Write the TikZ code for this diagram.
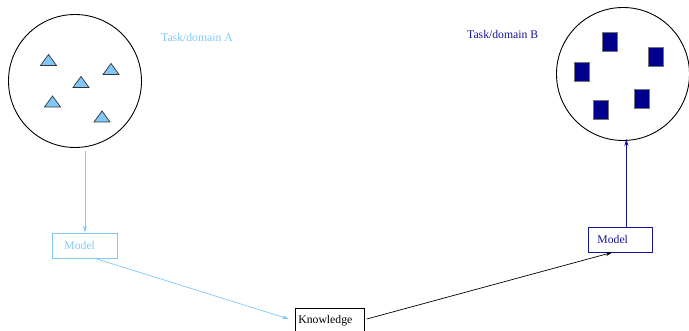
\documentclass[tikz,border=0pt]{standalone}
\usepackage{fontspec}
\setmainfont{Liberation Serif}
\usetikzlibrary{shapes.geometric,arrows.meta,calc}
\definecolor{lblue}{RGB}{128,200,250}
\definecolor{nblue}{RGB}{20,20,150}
\definecolor{sqfill}{RGB}{0,0,140}
\tikzset{
  domcircle/.style={circle,draw=black,line width=0.9pt,minimum size=133pt,inner sep=0pt},
  tri/.style={draw=black!80,fill=lblue,line width=0.7pt,line join=miter},
  sq/.style={rectangle,draw=black!55,fill=sqfill,line width=0.6pt,minimum width=15pt,minimum height=19pt,inner sep=0pt},
  modelbox/.style={rectangle,line width=0.8pt,minimum height=25pt,anchor=west,font=\fontsize{11.7}{14}\selectfont},
  lbl/.style={anchor=west,inner sep=0pt,font=\fontsize{11.7}{14}\selectfont},
  conn/.style={line width=0.7pt,-{Stealth[length=7pt,width=4pt]}}
}
\newcommand{\mytri}[1]{\draw[tri] ($(#1)+(-8,5.5)$) -- ($(#1)+(8,5.5)$) -- ($(#1)+(0,-5.5)$) -- cycle;}
\begin{document}
\begin{tikzpicture}[x=1pt,y=-1pt]
\useasboundingbox (0,0) rectangle (689,331);
% domains
\node[domcircle] (cA) at (75,81) {};
\node[domcircle] (cB) at (623,74) {};
% triangles
\coordinate (t1) at (48.5,60);
\coordinate (t2) at (111,69);
\coordinate (t3) at (81,82);
\coordinate (t4) at (52.5,101.5);
\coordinate (t5) at (102,116.5);
\mytri{t1}\mytri{t2}\mytri{t3}\mytri{t4}\mytri{t5}
% squares
\node[sq] (s1) at (610,42) {};
\node[sq] (s2) at (656,57) {};
\node[sq] (s3) at (582,72) {};
\node[sq] (s4) at (642,99) {};
\node[sq] (s5) at (601,110) {};
% labels
\node[lbl,text=lblue] (la) at (161,38) {Task/domain A};
\node[lbl,text=nblue] (lb) at (467,35) {Task/domain B};
% boxes
\node[modelbox,draw=lblue,text=lblue,minimum width=65pt,text width=41pt,inner xsep=12pt,align=left] (mA) at (52,245.5) {Model};
\node[modelbox,draw=nblue,text=nblue,minimum width=64pt,text width=46pt,inner xsep=9pt,align=left] (mB) at (588,239.5) {Model};
\node[draw=black,line width=0.8pt,anchor=north west,font=\fontsize{11.7}{14}\selectfont,minimum width=69pt,text width=63pt,inner xsep=3pt,inner ysep=3pt,text height=12pt,text depth=10pt,align=left] (kn) at (295,308) {Knowledge};
% connectors
\draw[conn,draw=lblue] (mA.north |- cA.south) ++(0,3) -- (mA.north);
\draw[conn,draw=lblue] ([xshift=10pt]mA.south) -- ([xshift=-6pt,yshift=-11pt]kn.north west);
\draw[conn,draw=black] ([xshift=2pt,yshift=-11pt]kn.north east) -- ([xshift=-8pt]mB.south);
\draw[conn,draw=nblue] ([xshift=6pt]mB.north) -- ([xshift=6pt,yshift=2pt]mB.north |- cB.south);
\end{tikzpicture}
\end{document}
